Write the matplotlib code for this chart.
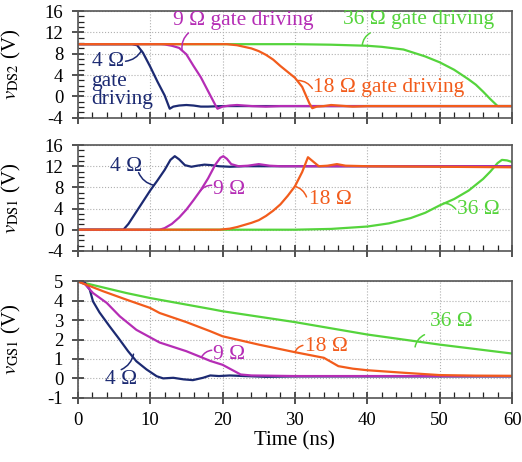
import matplotlib
matplotlib.use("Agg")
import matplotlib.pyplot as plt
from matplotlib.ticker import MultipleLocator

# colours for the four gate resistors
c4 = '#1c2a72'
c9 = '#b52db5'
c18 = '#f25c1c'
c36 = '#55d43c'

# ---- v_DS2 (top) ----
t_ds2_4 = [0, 7.5, 8.2, 9, 10, 11, 12, 12.7, 13.2, 14, 15, 16, 17, 18, 20, 22, 25, 30, 40, 60]
v_ds2_4 = [9.8, 9.8, 9.6, 8.2, 5.6, 2.8, 0.2, -2.3, -1.9, -1.7, -1.6, -1.7, -1.9, -1.9, -1.8, -1.8, -1.8, -1.8, -1.8, -1.8]
t_ds2_9 = [0, 11.5, 12, 13, 14, 15, 16, 17, 18, 19, 19.3, 20, 21, 22, 24, 26, 28, 30, 60]
v_ds2_9 = [9.8, 9.8, 9.75, 9.5, 9.1, 7.9, 5.7, 3.6, 1.0, -1.6, -2.3, -1.9, -1.7, -1.6, -1.8, -1.9, -1.8, -1.8, -1.8]
t_ds2_18 = [0, 20.6, 22, 23, 24, 25, 26, 27, 28, 29, 30, 31, 32, 32.4, 33, 34, 35, 36, 38, 40, 60]
v_ds2_18 = [9.8, 9.8, 9.6, 9.3, 9.0, 8.5, 7.8, 6.9, 5.7, 4.6, 3.5, 1.8, -1.3, -2.2, -1.9, -1.8, -1.6, -1.7, -1.9, -1.8, -1.8]
t_ds2_36 = [0, 30, 35, 40, 42, 45, 48, 50, 52, 54, 55, 56, 57, 58, 60]
v_ds2_36 = [9.8, 9.8, 9.7, 9.5, 9.3, 8.8, 7.5, 6.4, 5.0, 3.2, 2.2, 0.9, -0.5, -1.8, -1.8]

# ---- v_DS1 (middle) ----
t_ds1_4 = [0, 6.3, 7, 8, 9, 10, 11, 12, 12.8, 13.4, 14, 14.8, 15.7, 16.5, 17.5, 18.5, 19.5, 21, 23, 25, 30, 60]
v_ds1_4 = [0, 0, 1.1, 3.2, 5.3, 7.4, 9.3, 11.3, 13.2, 13.9, 13.3, 12.2, 11.9, 12.1, 12.3, 12.2, 12.0, 11.9, 12.0, 12.0, 12.0, 12.0]
t_ds1_9 = [0, 11.3, 12, 13, 14, 15, 16, 17, 18, 19, 19.7, 20.1, 20.6, 21.2, 22.2, 23.5, 25, 26.5, 28, 30, 60]
v_ds1_9 = [0, 0, 0.3, 1.1, 2.3, 3.8, 5.6, 7.5, 9.7, 12.3, 13.6, 13.9, 13.4, 12.4, 12.0, 12.1, 12.4, 12.1, 12.0, 12.0, 12.0]
t_ds1_18 = [0, 19.6, 21, 22, 23, 24, 25, 26, 27, 28, 29, 30, 31, 31.8, 32.5, 33.3, 34.5, 35.8, 37, 40, 50, 60]
v_ds1_18 = [0, 0, 0.2, 0.5, 0.9, 1.3, 1.8, 2.6, 3.6, 4.8, 6.4, 8.2, 10.9, 13.7, 12.9, 12.0, 12.1, 12.4, 12.1, 12.0, 11.9, 11.8]
t_ds1_36 = [0, 30, 35, 40, 43, 46, 48, 50, 52, 54, 55, 56, 57, 58, 58.6, 59.3, 60]
v_ds1_36 = [0, 0, 0.15, 0.6, 1.2, 2.2, 3.2, 4.6, 5.8, 7.4, 8.5, 9.6, 11.0, 12.6, 13.2, 13.1, 12.8]

# ---- v_GS1 (bottom) ----
t_gs1_4 = [0, 0.5, 1, 1.66, 2.1, 3.0, 4.4, 5.6, 6.95, 8.1, 9.5, 10.9, 11.8, 13.2, 14.6, 15.9, 17.3, 18.3, 19.5, 21, 23, 26, 30, 40, 50, 60]
v_gs1_4 = [5.0, 5.0, 4.92, 4.57, 3.97, 3.4, 2.68, 2.09, 1.40, 0.88, 0.46, 0.11, 0.0, 0.03, -0.05, -0.09, 0.03, 0.15, 0.12, 0.15, 0.12, 0.08, 0.1, 0.1, 0.1, 0.1]
t_gs1_9 = [0, 1, 2.1, 4, 5.8, 8.1, 11.3, 15, 17, 18.3, 20, 21, 22.5, 24, 30, 40, 60]
v_gs1_9 = [5.0, 4.85, 4.4, 3.89, 3.2, 2.5, 1.85, 1.4, 1.1, 0.9, 0.7, 0.5, 0.2, 0.15, 0.12, 0.12, 0.12]
t_gs1_18 = [0, 3.5, 6.7, 10, 11.3, 15, 18.3, 20, 25, 30, 34, 36, 38, 40, 45, 50, 55, 60]
v_gs1_18 = [5.0, 4.49, 4.06, 3.63, 3.37, 2.9, 2.43, 2.17, 1.74, 1.35, 1.06, 0.63, 0.5, 0.42, 0.29, 0.17, 0.14, 0.13]
t_gs1_36 = [0, 6.7, 10, 18.3, 20, 30, 40, 50, 60]
v_gs1_36 = [5.0, 4.4, 4.14, 3.58, 3.46, 2.9, 2.26, 1.74, 1.28]

plt.rcParams['font.family'] = ['Liberation Serif', 'DejaVu Serif']
plt.rcParams['mathtext.fontset'] = 'stix'

fig = plt.figure(figsize=(5.22, 4.62), dpi=100)
ax1 = fig.add_axes([0.149, 0.745, 0.832, 0.231])
ax2 = fig.add_axes([0.149, 0.457, 0.832, 0.229])
ax3 = fig.add_axes([0.149, 0.139, 0.832, 0.252])

lw = 1.6
fs = 15.5


def style(ax, ylim, ymaj, ymin, ylabel, xlabels):
    ax.set_xlim(0, 60)
    ax.set_ylim(*ylim)
    ax.xaxis.set_major_locator(MultipleLocator(10))
    ax.xaxis.set_minor_locator(MultipleLocator(2))
    ax.yaxis.set_major_locator(MultipleLocator(ymaj))
    if ymin:
        ax.yaxis.set_minor_locator(MultipleLocator(ymin))
    ax.tick_params(which='major', direction='inout', length=9, width=1.1,
                   labelsize=13.5, pad=6, color='#222222')
    ax.tick_params(which='minor', direction='in', length=4, width=0.9, color='#222222')
    ax.grid(True, which='major', linestyle=':', color='#b0b0b0', linewidth=0.8)
    for s in ax.spines.values():
        s.set_color('#555555')
        s.set_linewidth(1.2)
    ax.set_ylabel(ylabel, fontsize=15)
    ax.yaxis.set_label_coords(-0.125, 0.5)
    if not xlabels:
        ax.set_xticklabels([])
    ax.set_yticks(ax.get_yticks())
    ax.set_yticklabels([f'{v:g}' for v in ax.get_yticks()])
    ax.set_ylim(*ylim)


def pointer(ax, p0, p1, c):
    ax.annotate('', xy=p0, xytext=p1,
                arrowprops=dict(arrowstyle='-', color=c, lw=1.1, shrinkA=0, shrinkB=0,
                                connectionstyle='arc3,rad=0.25'))


# top panel
ax1.plot(t_ds2_36, v_ds2_36, color=c36, lw=lw)
ax1.plot(t_ds2_4, v_ds2_4, color=c4, lw=lw)
ax1.plot(t_ds2_9, v_ds2_9, color=c9, lw=lw)
ax1.plot(t_ds2_18, v_ds2_18, color=c18, lw=lw)
style(ax1, (-4, 16), 4, 1, r'$v_{\mathrm{DS2}}$ (V)', False)
ax1.text(13.1, 14.3, '9 Ω gate driving', color=c9, fontsize=fs, va='center')
pointer(ax1, (14.4, 8.8), (15.3, 11.9), c9)
ax1.text(36.7, 14.4, '36 Ω gate driving', color=c36, fontsize=fs, va='center')
pointer(ax1, (39.3, 9.6), (40.4, 11.9), c36)
ax1.text(1.9, 6.6, '4 Ω', color=c4, fontsize=fs, va='center')
ax1.text(1.9, 2.8, 'gate', color=c4, fontsize=fs, va='center')
ax1.text(1.9, -0.6, 'driving', color=c4, fontsize=fs, va='center')
pointer(ax1, (8.8, 8.6), (6.6, 6.6), c4)
ax1.text(32.5, 1.6, '18 Ω gate driving', color=c18, fontsize=fs, va='center')
pointer(ax1, (30.5, 3.0), (32.4, 1.5), c18)

# middle panel
ax2.plot(t_ds1_36, v_ds1_36, color=c36, lw=lw)
ax2.plot(t_ds1_4, v_ds1_4, color=c4, lw=lw)
ax2.plot(t_ds1_9, v_ds1_9, color=c9, lw=lw)
ax2.plot(t_ds1_18, v_ds1_18, color=c18, lw=lw)
style(ax2, (-4, 16), 4, 1, r'$v_{\mathrm{DS1}}$ (V)', False)
ax2.text(4.4, 12.0, '4 Ω', color=c4, fontsize=fs, va='center')
pointer(ax2, (10.5, 8.4), (8.4, 10.8), c4)
ax2.text(18.7, 7.6, '9 Ω', color=c9, fontsize=fs, va='center')
pointer(ax2, (16.9, 7.3), (18.5, 8.4), c9)
ax2.text(32.0, 5.7, '18 Ω', color=c18, fontsize=fs, va='center')
pointer(ax2, (30.0, 8.2), (31.6, 6.2), c18)
ax2.text(52.4, 3.8, '36 Ω', color=c36, fontsize=fs, va='center')
pointer(ax2, (50.5, 5.0), (52.2, 3.9), c36)

# bottom panel
ax3.plot(t_gs1_36, v_gs1_36, color=c36, lw=lw)
ax3.plot(t_gs1_4, v_gs1_4, color=c4, lw=lw)
ax3.plot(t_gs1_9, v_gs1_9, color=c9, lw=lw)
ax3.plot(t_gs1_18, v_gs1_18, color=c18, lw=lw)
style(ax3, (-1, 5), 1, None, r'$v_{\mathrm{GS1}}$ (V)', True)
ax3.set_xlabel('Time (ns)', fontsize=15, labelpad=1)
ax3.text(48.7, 2.94, '36 Ω', color=c36, fontsize=fs, va='center')
pointer(ax3, (46.6, 1.62), (47.9, 2.25), c36)
ax3.text(31.4, 1.66, '18 Ω', color=c18, fontsize=fs, va='center')
pointer(ax3, (30.0, 1.35), (31.1, 1.7), c18)
ax3.text(18.7, 1.23, '9 Ω', color=c9, fontsize=fs, va='center')
pointer(ax3, (17.1, 1.1), (18.5, 1.45), c9)
ax3.text(3.7, -0.06, '4 Ω', color=c4, fontsize=fs, va='center')
pointer(ax3, (7.7, 1.25), (6.0, 0.45), c4)

fig.savefig('out.png', dpi=100)
